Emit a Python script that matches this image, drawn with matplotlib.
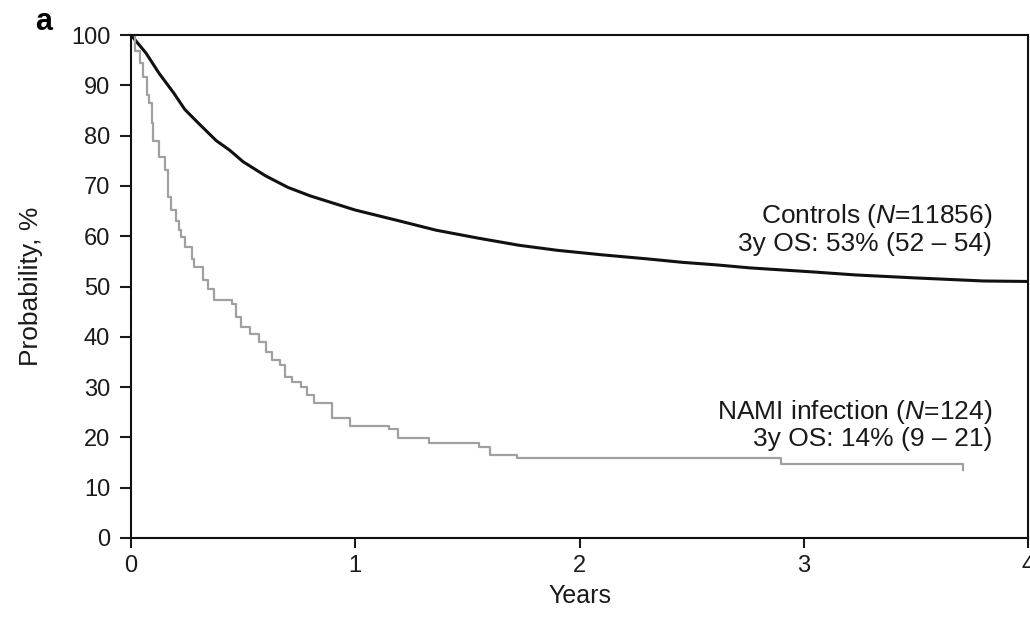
import numpy as np
import matplotlib
matplotlib.use('Agg')
import matplotlib.pyplot as plt
from matplotlib import font_manager

# Controls curve
ctrl_t = [0, 0.067, 0.125, 0.19, 0.24, 0.30, 0.38, 0.44, 0.5, 0.6, 0.7, 0.8, 0.9, 1.0,
          1.2, 1.36, 1.55, 1.73, 1.9, 2.1, 2.3, 2.46, 2.61, 2.76, 3.04, 3.23, 3.5, 3.8, 4.0]
ctrl_s = [100, 96.4, 92.4, 88.5, 85.2, 82.5, 79, 77.1, 74.8, 72, 69.7, 68, 66.6, 65.2,
          63, 61.2, 59.6, 58.2, 57.2, 56.3, 55.5, 54.8, 54.3, 53.7, 52.9, 52.3, 51.7, 51.1, 51.0]

# NAMI infection curve, Kaplan-Meier steps
nami_t = [0, 0.02, 0.04, 0.052, 0.07, 0.08, 0.095, 0.10, 0.125, 0.15, 0.165, 0.18, 0.20,
          0.215, 0.225, 0.24, 0.27, 0.28, 0.32, 0.345, 0.37, 0.45, 0.47, 0.49, 0.53, 0.57,
          0.60, 0.63, 0.665, 0.685, 0.72, 0.76, 0.785, 0.815, 0.895, 0.975, 1.15, 1.19,
          1.33, 1.55, 1.60, 1.72, 2.90, 3.71]
nami_s = [100, 96.8, 94.4, 91.7, 88, 86.5, 82.5, 79, 75.7, 73.2, 67.8, 65.2, 63,
          61.2, 59.8, 57.9, 55.5, 53.9, 51.3, 49.5, 47.3, 46.5, 44, 42, 40.5, 39,
          37, 35.4, 34.3, 32, 31, 30, 28.5, 26.8, 23.9, 22.2, 21.7, 19.9,
          18.9, 18.1, 16.5, 15.9, 14.7, 13.5]

ctrl_label = 'Controls ($N$=11856)\n3y OS: 53% (52 – 54)'
nami_label = 'NAMI infection ($N$=124)\n3y OS: 14% (9 – 21)'

names = {f.name for f in font_manager.fontManager.ttflist}
fam = 'Liberation Sans' if 'Liberation Sans' in names else 'DejaVu Sans'
plt.rcParams['font.family'] = [fam, 'DejaVu Sans']
plt.rcParams['mathtext.fontset'] = 'custom'
plt.rcParams['mathtext.rm'] = fam
plt.rcParams['mathtext.it'] = fam + ':italic'

fig = plt.figure(figsize=(10.3, 6.25), dpi=100)
ax = fig.add_axes([131/1030, 87/625, 897/1030, 503/625])

ax.plot(ctrl_t, ctrl_s, color='#111111', lw=2.2, solid_capstyle='butt')
ax.step(nami_t, nami_s, where='post', color='#a0a0a0', lw=1.6)

ax.set_xlim(0, 4)
ax.set_ylim(0, 100)
ax.set_xticks([0, 1, 2, 3, 4])
ax.set_yticks(np.arange(0, 101, 10))
for s in ax.spines.values():
    s.set_linewidth(1.5)
    s.set_color('#111111')
ax.tick_params(direction='out', length=7, width=1.5, labelsize=17, colors='#1a1a1a', pad=5)
ax.tick_params(axis='y', length=8, pad=7)

ax.set_ylabel('Probability, %', fontsize=19, labelpad=20, color='#1a1a1a')
ax.set_xlabel('Years', fontsize=18, labelpad=5, color='#1a1a1a')

ax.text(3.84, 61.4, ctrl_label, ha='right', va='center', ma='right', fontsize=19,
        linespacing=1.08, color='#1a1a1a')
ax.text(3.84, 22.6, nami_label, ha='right', va='center', ma='right', fontsize=19,
        linespacing=1.08, color='#1a1a1a')

fig.text(0.034, 0.965, 'a', fontsize=22, fontweight='bold', ha='left', va='center')

fig.savefig('out.png', dpi=100)
